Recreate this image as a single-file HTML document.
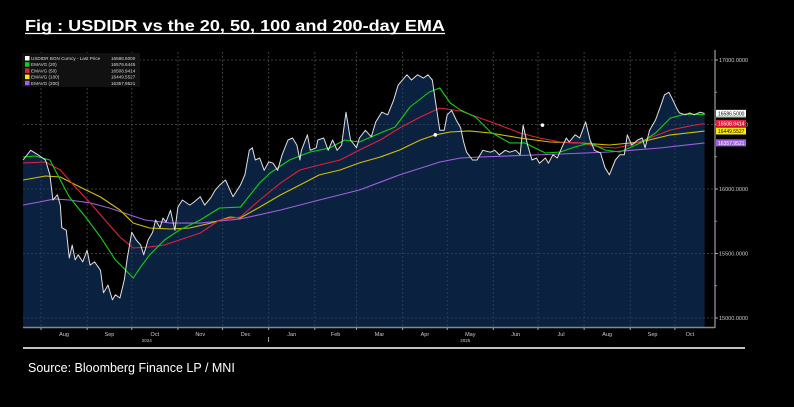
<!DOCTYPE html>
<html><head><meta charset="utf-8"><style>
html,body{margin:0;padding:0;background:#000;width:794px;height:407px;overflow:hidden}
svg{display:block}
</style></head><body>
<svg id="chart" width="794" height="407" viewBox="0 0 794 407" xmlns="http://www.w3.org/2000/svg" font-family="Liberation Sans, sans-serif">
<defs><clipPath id="areaClip"><path id="clipPathShape" d=""/></clipPath></defs>
<rect x="0" y="0" width="794" height="407" fill="#000"/>
<text x="25" y="31" fill="#fff" font-size="16" font-weight="bold" textLength="420" lengthAdjust="spacingAndGlyphs">Fig :  USDIDR  vs the 20, 50, 100 and 200-day EMA</text>
<line x1="25" y1="33.5" x2="445" y2="33.5" stroke="#fff" stroke-width="1.2"/>
<g id="grid"></g>
<g id="series"></g>
<g id="axes"></g>
<g id="legend"></g>
<line x1="23" y1="348" x2="745" y2="348" stroke="#fff" stroke-width="1.5"/>
<text x="28" y="372" fill="#fff" font-size="12.5">Source: Bloomberg Finance LP / MNI</text>
</svg>
<script>
// ---- data (day 0 = 1 Aug 2024) ----
const priceDays=[-12,-7,-2,3,6,8,11,13,14,17,19,21,23,25,28,31,33,36,40,42,45,48,50,53,56,58,61,64,67,69,72,75,77,80,82,84,87,90,92,95,100,103,107,110,114,117,120,124,129,134,137,140,142,144,147,150,153,156,159,162,166,169,172,174,175,179,181,185,186,190,193,196,199,202,205,208,212,214,218,222,225,229,233,237,240,244,246,249,253,257,260,263,266,268,271,273,276,279,282,284,286,290,293,297,302,305,308,312,315,319,322,324,327,330,333,335,339,341,344,347,350,353,355,359,362,366,369,372,376,379,382,386,389,392,394,397,401,404,406,409,413,416,419,422,424,427,429,433,436,439,443,446];
const priceVals=[16225,16300,16265,16225,16110,15915,15955,15875,15700,15680,15465,15565,15450,15490,15435,15525,15410,15435,15370,15195,15255,15140,15180,15155,15295,15465,15665,15605,15565,15490,15605,15665,15760,15700,15775,15745,15835,15680,15860,15915,15875,15900,15940,15875,15930,15990,16030,16070,15940,16030,16110,16300,16320,16225,16240,16145,16210,16200,16145,16265,16380,16395,16340,16225,16300,16420,16300,16320,16380,16395,16300,16380,16300,16340,16595,16380,16320,16395,16455,16405,16520,16595,16575,16690,16805,16860,16885,16845,16885,16860,16885,16845,16610,16455,16455,16575,16610,16535,16475,16365,16285,16225,16225,16300,16285,16300,16265,16300,16285,16300,16265,16495,16340,16225,16240,16200,16240,16200,16265,16240,16320,16395,16365,16420,16395,16520,16380,16300,16280,16165,16110,16225,16265,16265,16420,16340,16380,16395,16320,16455,16535,16630,16730,16750,16705,16630,16590,16575,16590,16575,16595,16585];
const ema20Days=[-12,-4,6,13,19,30,40,50,62,67,73,83,93,107,120,134,147,154,167,181,194,204,214,228,238,248,261,268,275,282,292,302,315,325,339,349,359,369,379,389,403,413,423,433,446];
const ema20Vals=[16248,16256,16225,16070,15938,15783,15628,15450,15310,15396,15489,15605,15682,15760,15853,15860,16047,16124,16225,16287,16318,16380,16364,16434,16481,16636,16752,16783,16667,16612,16558,16442,16357,16357,16279,16287,16326,16357,16302,16287,16357,16434,16550,16581,16577];
const ema50Days=[-12,3,13,23,33,43,53,62,73,83,93,107,120,134,147,161,174,187,201,214,228,241,255,268,282,295,308,322,335,349,362,376,386,396,409,423,436,446];
const ema50Vals=[16202,16209,16147,16016,15892,15760,15628,15543,15551,15566,15605,15659,15760,15783,15915,16047,16147,16186,16225,16302,16380,16473,16558,16628,16605,16550,16496,16434,16395,16364,16357,16326,16318,16341,16395,16457,16488,16508];
const ema100Days=[-12,3,13,26,40,53,62,73,87,100,114,127,134,147,161,174,187,201,214,228,241,255,265,275,288,302,322,342,362,382,403,423,446];
const ema100Vals=[16070,16101,16093,16016,15938,15837,15736,15698,15690,15698,15736,15783,15776,15860,15954,16031,16109,16147,16202,16248,16302,16380,16419,16442,16450,16434,16395,16364,16357,16341,16364,16419,16449];
const ema200Days=[-12,-1,9,19,33,46,60,70,87,107,120,134,161,187,214,241,268,282,295,349,382,416,446];
const ema200Vals=[15876,15899,15923,15915,15892,15853,15798,15760,15736,15736,15752,15768,15837,15915,15992,16109,16209,16240,16248,16271,16287,16318,16357];
const yTicks=[15000,15500,16000,16500,17000];
const yTickLabels=["15000.0000","15500.0000","16000.0000","16500.0000","17000.0000"];
const monthStarts=[0,31,61,92,122,153,184,212,243,273,304,334,365,396,426];
const monthLabels=["Aug","Sep","Oct","Nov","Dec","Jan","Feb","Mar","Apr","May","Jun","Jul","Aug","Sep","Oct"];
const lastLabels=["16586.5000","16508.9414","16449.5527","16357.9521"];
const lastVals=[16586.5,16508.9414,16449.5527,16357.9521];
const markDays=[265,337];
const markVals=[16420,16495];

// ---- scales ----
const X0=23,X1=705,Y_BOT=327,Y_TOP=52;
function xs(d){return 41+(d)*1.488;}
function ys(v){return 189-(v-16000)*0.129;}
const NS="http://www.w3.org/2000/svg";
function mk(tag,attrs,parent){const e=document.createElementNS(NS,tag);for(const k in attrs)e.setAttribute(k,attrs[k]);parent.appendChild(e);return e;}
const grid=document.getElementById('grid'),ser=document.getElementById('series'),axes=document.getElementById('axes'),leg=document.getElementById('legend');

// gridlines (on black)
yTicks.forEach((v,i)=>{
  const l=mk('line',{x1:X0,x2:715,y1:ys(v),y2:ys(v),stroke:'#3c3c3c','stroke-width':1,'stroke-dasharray':'2,2'},grid);
  
  
  const t=mk('text',{x:719,y:ys(v)+2,fill:'#ccc','font-size':5.5},axes);
  t.textContent=yTickLabels[i];
  
  
  mk('line',{x1:715,x2:718,y1:ys(v),y2:ys(v),stroke:'#aaa'},axes);
});
for(let v=15250;v<17000;v+=500){mk('line',{x1:715,x2:717,y1:ys(v),y2:ys(v),stroke:'#888'},axes);}
monthStarts.forEach((d,i)=>{
  const x=xs(d);
  const l=mk('line',{x1:x,x2:x,y1:Y_TOP,y2:Y_BOT,stroke:'#3c3c3c','stroke-width':1,'stroke-dasharray':'2,2'},grid);
  
  
  mk('line',{x1:x,x2:x,y1:Y_BOT,y2:Y_BOT+3,stroke:'#aaa'},axes);
  const nx=i+1<monthStarts.length?xs(monthStarts[i+1]):x+45;
  const t=mk('text',{x:(x+Math.min(nx,705))/2,y:336,fill:'#ccc','font-size':5.5,'text-anchor':'middle'},axes);
  t.textContent=monthLabels[i];
  
  
});
[["2024",xs(61)+15],["2025",xs(273)+18]].forEach(a=>{
  const t=mk('text',{x:a[1],y:342,fill:'#ccc','font-size':4.5,'text-anchor':'middle'},axes);
  t.textContent=a[0];
  
  
});
mk('line',{x1:xs(153),x2:xs(153),y1:337,y2:342,stroke:'#ccc','stroke-width':0.8},axes);

// price area + line
let pts=priceDays.map((d,i)=>xs(d).toFixed(1)+','+ys(priceVals[i]).toFixed(1));
const areaD='M'+xs(priceDays[0])+','+Y_BOT+' L'+pts.join(' L')+' L'+xs(priceDays[priceDays.length-1])+','+Y_BOT+' Z';
document.getElementById('clipPathShape').setAttribute('d',areaD);
const area=mk('path',{d:areaD,fill:'#0b2140'},ser);


const g2=mk('g',{'clip-path':'url(#areaClip)'},ser);
yTicks.forEach(v=>{mk('line',{x1:X0,x2:X1,y1:ys(v),y2:ys(v),stroke:'#2a3c55','stroke-width':1,'stroke-dasharray':'2,2'},g2);});
monthStarts.forEach(d=>{mk('line',{x1:xs(d),x2:xs(d),y1:Y_TOP,y2:Y_BOT,stroke:'#2a3c55','stroke-width':1,'stroke-dasharray':'2,2'},g2);});

function line(days,vals,color,name,w){
  const p=mk('polyline',{points:days.map((d,i)=>xs(d).toFixed(1)+','+ys(vals[i]).toFixed(1)).join(' '),fill:'none',stroke:color,'stroke-width':w,'stroke-linejoin':'round'},ser);
  
  
}
line(ema200Days,ema200Vals,'#a060e0','ema200-line',1.1);
line(ema100Days,ema100Vals,'#d4c000','ema100-line',1.1);
line(ema50Days,ema50Vals,'#e0203c','ema50-line',1.1);
line(ema20Days,ema20Vals,'#10d010','ema20-line',1.1);
line(priceDays,priceVals,'#e0e0e0','price-line',1);
markDays.forEach((d,i)=>{
  const c=mk('circle',{cx:xs(d),cy:ys(markVals[i]),r:1.8,fill:'#fff'},ser);
  
  
});

// axis frame
mk('line',{x1:715,x2:715,y1:50,y2:Y_BOT+1,stroke:'#bbb','stroke-width':1},axes);
mk('line',{x1:X0,x2:715,y1:Y_BOT+0.5,y2:Y_BOT+0.5,stroke:'#888','stroke-width':1.5},axes);

// last-value tags
const tagColors=['#ffffff','#e0203c','#ffe800','#a060e0'];
const tagText=['#000','#fff','#000','#fff'];
const tagNames=['price-last-tag','ema50-last-tag','ema100-last-tag','ema200-last-tag'];
lastVals.forEach((v,i)=>{
  const y=ys(v);
  const r=mk('rect',{x:716,y:y-3.5,width:30,height:7,fill:tagColors[i]},axes);
  
  
  const t=mk('text',{x:718,y:y+2,fill:tagText[i],'font-size':5},axes);
  t.textContent=lastLabels[i];
});
mk('rect',{x:716,y:ys(lastVals[0])+3.5,width:30,height:1.2,fill:'#10a010'},axes);

// legend
const lg=mk('rect',{x:22,y:53,width:118,height:34,fill:'#111'},leg);


const legNames=['USDIDR BGN Curncy - Last Price','EMAVG (20)','EMAVG (50)','EMAVG (100)','EMAVG (200)'];
const legVals=['16586.5000','16576.6445','16508.9414','16449.5527','16357.9521'];
const legCols=['#ffffff','#10d010','#e0203c','#ffe800','#a060e0'];
legNames.forEach((n,i)=>{
  const y=56+i*6.2;
  const s=mk('rect',{x:25,y:y,width:4.5,height:4.5,fill:legCols[i]},leg);
  
  
  const t=mk('text',{x:31,y:y+4,fill:'#ddd','font-size':4.6},leg);
  t.textContent=n;
  
  
  const t2=mk('text',{x:111,y:y+4,fill:'#ddd','font-size':4.6},leg);
  t2.textContent=legVals[i];
});
</script>
</body></html>
